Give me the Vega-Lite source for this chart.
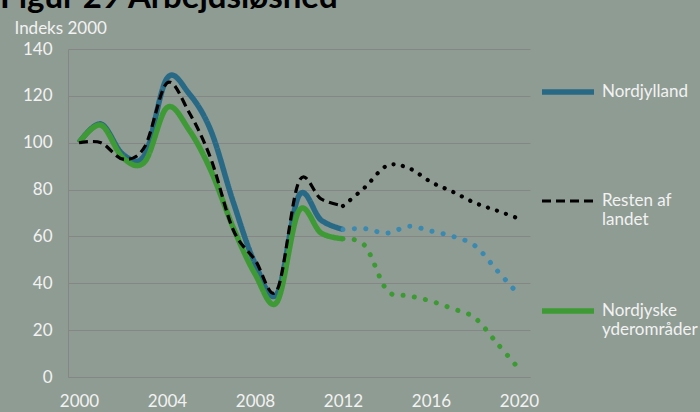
{
  "$schema": "https://vega.github.io/schema/vega-lite/v6.json",
  "width": 462,
  "height": 328,
  "autosize": {"type": "none"},
  "padding": {"left": 68, "top": 49, "right": 170, "bottom": 35},
  "background": "#8f9c93",
  "config": {"view": {"stroke": null}, "font": "Lato"},
  "title": {"text": "Figur 29 Arbejdsløshed", "anchor": "start", "frame": "group", "dx": -68, "dy": 34, "offset": 12, "baseline": "alphabetic", "font": "Lato", "fontSize": 33, "fontWeight": "bold", "color": "#000000"},
  "data": {"values": [
    {"year": 2000, "series": "Nordjylland", "kind": "hist", "value": 100},
    {"year": 2001, "series": "Nordjylland", "kind": "hist", "value": 108},
    {"year": 2002, "series": "Nordjylland", "kind": "hist", "value": 95},
    {"year": 2003, "series": "Nordjylland", "kind": "hist", "value": 95},
    {"year": 2004, "series": "Nordjylland", "kind": "hist", "value": 127.5},
    {"year": 2005, "series": "Nordjylland", "kind": "hist", "value": 121},
    {"year": 2006, "series": "Nordjylland", "kind": "hist", "value": 105},
    {"year": 2007, "series": "Nordjylland", "kind": "hist", "value": 75},
    {"year": 2008, "series": "Nordjylland", "kind": "hist", "value": 48.5},
    {"year": 2009, "series": "Nordjylland", "kind": "hist", "value": 35.5},
    {"year": 2010, "series": "Nordjylland", "kind": "hist", "value": 77.5},
    {"year": 2011, "series": "Nordjylland", "kind": "hist", "value": 67},
    {"year": 2012, "series": "Nordjylland", "kind": "hist", "value": 63},
    {"year": 2000, "series": "Nordjyske yderområder", "kind": "hist", "value": 100},
    {"year": 2001, "series": "Nordjyske yderområder", "kind": "hist", "value": 107.5},
    {"year": 2002, "series": "Nordjyske yderområder", "kind": "hist", "value": 93.5},
    {"year": 2003, "series": "Nordjyske yderområder", "kind": "hist", "value": 92},
    {"year": 2004, "series": "Nordjyske yderområder", "kind": "hist", "value": 115},
    {"year": 2005, "series": "Nordjyske yderområder", "kind": "hist", "value": 105.5},
    {"year": 2006, "series": "Nordjyske yderområder", "kind": "hist", "value": 88},
    {"year": 2007, "series": "Nordjyske yderområder", "kind": "hist", "value": 64},
    {"year": 2008, "series": "Nordjyske yderområder", "kind": "hist", "value": 44},
    {"year": 2009, "series": "Nordjyske yderområder", "kind": "hist", "value": 32},
    {"year": 2010, "series": "Nordjyske yderområder", "kind": "hist", "value": 71},
    {"year": 2011, "series": "Nordjyske yderområder", "kind": "hist", "value": 61.5},
    {"year": 2012, "series": "Nordjyske yderområder", "kind": "hist", "value": 59},
    {"year": 2000, "series": "Resten af landet", "kind": "hist", "value": 100},
    {"year": 2001, "series": "Resten af landet", "kind": "hist", "value": 100},
    {"year": 2002, "series": "Resten af landet", "kind": "hist", "value": 93},
    {"year": 2003, "series": "Resten af landet", "kind": "hist", "value": 98.5},
    {"year": 2004, "series": "Resten af landet", "kind": "hist", "value": 125.5},
    {"year": 2005, "series": "Resten af landet", "kind": "hist", "value": 113},
    {"year": 2006, "series": "Resten af landet", "kind": "hist", "value": 93},
    {"year": 2007, "series": "Resten af landet", "kind": "hist", "value": 63},
    {"year": 2008, "series": "Resten af landet", "kind": "hist", "value": 50},
    {"year": 2009, "series": "Resten af landet", "kind": "hist", "value": 37},
    {"year": 2010, "series": "Resten af landet", "kind": "hist", "value": 83.5},
    {"year": 2011, "series": "Resten af landet", "kind": "hist", "value": 76},
    {"year": 2012, "series": "Resten af landet", "kind": "hist", "value": 73},
    {"year": 2012, "series": "Nordjylland", "kind": "prog", "value": 63},
    {"year": 2013, "series": "Nordjylland", "kind": "prog", "value": 63.3},
    {"year": 2014, "series": "Nordjylland", "kind": "prog", "value": 61.4},
    {"year": 2015, "series": "Nordjylland", "kind": "prog", "value": 64.3},
    {"year": 2016, "series": "Nordjylland", "kind": "prog", "value": 62.3},
    {"year": 2017, "series": "Nordjylland", "kind": "prog", "value": 60},
    {"year": 2018, "series": "Nordjylland", "kind": "prog", "value": 56},
    {"year": 2019, "series": "Nordjylland", "kind": "prog", "value": 45.5},
    {"year": 2020, "series": "Nordjylland", "kind": "prog", "value": 35},
    {"year": 2012, "series": "Nordjyske yderområder", "kind": "prog", "value": 59},
    {"year": 2013, "series": "Nordjyske yderområder", "kind": "prog", "value": 56},
    {"year": 2014, "series": "Nordjyske yderområder", "kind": "prog", "value": 37},
    {"year": 2015, "series": "Nordjyske yderområder", "kind": "prog", "value": 34.7},
    {"year": 2016, "series": "Nordjyske yderområder", "kind": "prog", "value": 32.4},
    {"year": 2017, "series": "Nordjyske yderområder", "kind": "prog", "value": 29.1},
    {"year": 2018, "series": "Nordjyske yderområder", "kind": "prog", "value": 25.2},
    {"year": 2019, "series": "Nordjyske yderområder", "kind": "prog", "value": 14.4},
    {"year": 2020, "series": "Nordjyske yderområder", "kind": "prog", "value": 3.5},
    {"year": 2012, "series": "Resten af landet", "kind": "prog", "value": 73},
    {"year": 2013, "series": "Resten af landet", "kind": "prog", "value": 81},
    {"year": 2014, "series": "Resten af landet", "kind": "prog", "value": 90.2},
    {"year": 2015, "series": "Resten af landet", "kind": "prog", "value": 89.1},
    {"year": 2016, "series": "Resten af landet", "kind": "prog", "value": 83.2},
    {"year": 2017, "series": "Resten af landet", "kind": "prog", "value": 79},
    {"year": 2018, "series": "Resten af landet", "kind": "prog", "value": 74.3},
    {"year": 2019, "series": "Resten af landet", "kind": "prog", "value": 71},
    {"year": 2020, "series": "Resten af landet", "kind": "prog", "value": 67.6}
  ]},
  "encoding": {
    "x": {"field": "year", "type": "quantitative",
      "scale": {"domain": [1999.5, 2020.5], "nice": false, "zero": false},
      "axis": {"values": [2000, 2004, 2008, 2012, 2016, 2020], "format": "d", "grid": false, "ticks": false,
        "domain": true, "domainColor": "#868686", "domainWidth": 1, "labelPadding": 16, "labelFont": "Lato",
        "labelFontSize": 17, "labelColor": "#f2f2f2", "labelFlush": false, "title": null}},
    "y": {"field": "value", "type": "quantitative",
      "scale": {"domain": [0, 140], "nice": false},
      "axis": {"values": [0, 20, 40, 60, 80, 100, 120, 140], "grid": true, "gridColor": "#868686", "gridWidth": 1,
        "domain": true, "domainColor": "#868686", "ticks": false, "labelPadding": 16, "labelFont": "Lato",
        "labelFontSize": 17, "labelColor": "#f2f2f2", "title": "Indeks 2000", "titleAngle": 0, "titleAlign": "left",
        "titleBaseline": "alphabetic", "titleX": -54, "titleY": -16, "titleFont": "Lato", "titleFontSize": 17,
        "titleFontWeight": "normal", "titleColor": "#f2f2f2"}}
  },
  "layer": [
    {
      "transform": [{"filter": "datum.kind == 'hist'"}],
      "mark": {"type": "line", "interpolate": "cardinal", "strokeCap": "butt"},
      "encoding": {
        "color": {"field": "series", "type": "nominal",
          "scale": {"domain": ["Nordjylland", "Resten af landet", "Nordjyske yderområder"], "range": ["#286a85", "#000000", "#3e9a35"]},
          "legend": {"orient": "none", "legendX": 471, "legendY": 14, "title": null, "symbolType": "stroke", "symbolSize": 2704,
            "labelFont": "Lato", "labelFontSize": 17, "labelColor": "#f2f2f2", "labelOffset": 5, "rowPadding": 54, "padding": 0,
            "labelLimit": 200,
            "labelExpr": "datum.label == 'Resten af landet' ? ['Resten af', 'landet'] : datum.label == 'Nordjyske yderområder' ? ['Nordjyske', 'yderområder'] : [datum.label, '']"}},
        "strokeDash": {"field": "series", "type": "nominal",
          "scale": {"domain": ["Nordjylland", "Resten af landet", "Nordjyske yderområder"], "range": [[1, 0], [9, 5], [1, 0]]}},
        "strokeWidth": {"field": "series", "type": "nominal",
          "scale": {"type": "ordinal", "domain": ["Nordjylland", "Resten af landet", "Nordjyske yderområder"], "range": [5.5, 3.2, 5.5]}}
      }
    },
    {
      "transform": [{"filter": "datum.kind == 'prog' && datum.series == 'Nordjylland'"}],
      "mark": {"type": "line", "interpolate": "cardinal", "color": "#3a89b0", "strokeWidth": 5, "strokeCap": "round", "strokeDash": [0.1, 11.3]},
      "encoding": {}
    },
    {
      "transform": [{"filter": "datum.kind == 'prog' && datum.series == 'Nordjyske yderområder'"}],
      "mark": {"type": "line", "interpolate": "cardinal", "color": "#3c9a32", "strokeWidth": 5, "strokeCap": "round", "strokeDash": [0.1, 11.3]},
      "encoding": {}
    },
    {
      "transform": [{"filter": "datum.kind == 'prog' && datum.series == 'Resten af landet'"}],
      "mark": {"type": "line", "interpolate": "cardinal", "color": "#000000", "strokeWidth": 4.2, "strokeCap": "round", "strokeDash": [0.1, 9.4]},
      "encoding": {}
    }
  ]
}
